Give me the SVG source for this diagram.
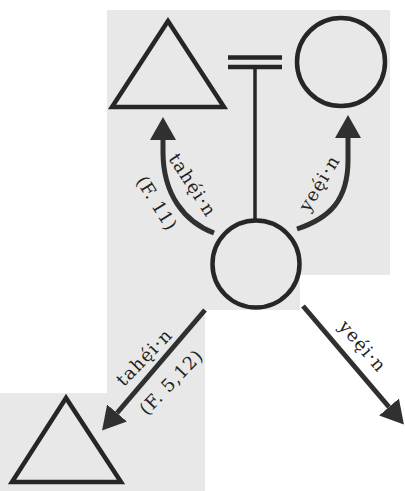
<svg xmlns="http://www.w3.org/2000/svg" width="405" height="491" viewBox="0 0 405 491">
<style>
.bg{fill:#e8e8e8}
.shape{fill:none;stroke:#262626;stroke-width:4.5}
.link{fill:none;stroke:#303030;stroke-width:5}
.lbl{font-family:"DejaVu Serif","Liberation Serif",serif;font-size:18px;fill:#222;letter-spacing:1.2px;text-anchor:middle;dominant-baseline:central}
</style>
<defs>
<marker id="ah" markerUnits="userSpaceOnUse" markerWidth="24" markerHeight="28" refX="0" refY="14" orient="auto" viewBox="0 0 24 28">
<path d="M0,1 L23,14 L0,27 Z" fill="#303030"/>
</marker>
</defs>
<path class="bg" d="M107,10 H390 V275 H300 V310 H205 V491 H0 V393 H107 Z"/>
<g id="triangle-top">
<polygon class="shape" points="168,21 112,107 224,107"/>
</g>
<g id="circle-top">
<circle class="shape" cx="341" cy="62" r="44"/>
</g>
<g id="marriage">
<line class="shape" x1="228" y1="57.5" x2="282" y2="57.5"/>
<line class="shape" x1="228" y1="67" x2="282" y2="67"/>
</g>
<g id="circle-ego">
<circle class="shape" cx="256" cy="264" r="43.5"/>
</g>
<g id="triangle-bottom">
<polygon class="shape" points="66,398 12,482 121,482"/>
</g>
<g id="connectors">
<line class="shape" x1="255" y1="67" x2="255" y2="220" style="stroke-width:3.5"/>
<path class="link" d="M214,233 C185,222 163,195 163,152 L163,140" marker-end="url(#ah)"/>
<path class="link" d="M297,229 C330,218 348,200 348,160 L348,138" marker-end="url(#ah)"/>
<path class="link" d="M205,310 L117,413" marker-end="url(#ah)"/>
<path class="link" d="M303,306 L389,407" marker-end="url(#ah)"/>
</g>
<g id="labels">
<text class="lbl" transform="translate(193,185) rotate(57)">tahę́i·n</text>
<text class="lbl" transform="translate(157,203) rotate(58)" style="letter-spacing:0.3px">(F. 11)</text>
<text class="lbl" transform="translate(319,183) rotate(-59)">yeę́i·n</text>
<text class="lbl" transform="translate(144,357) rotate(-46)">tahę́i·n</text>
<text class="lbl" transform="translate(171,382) rotate(-46)" style="letter-spacing:0.8px">(F. 5,12)</text>
<text class="lbl" transform="translate(363,346) rotate(49)">yeę́i·n</text>
</g>
</svg>
